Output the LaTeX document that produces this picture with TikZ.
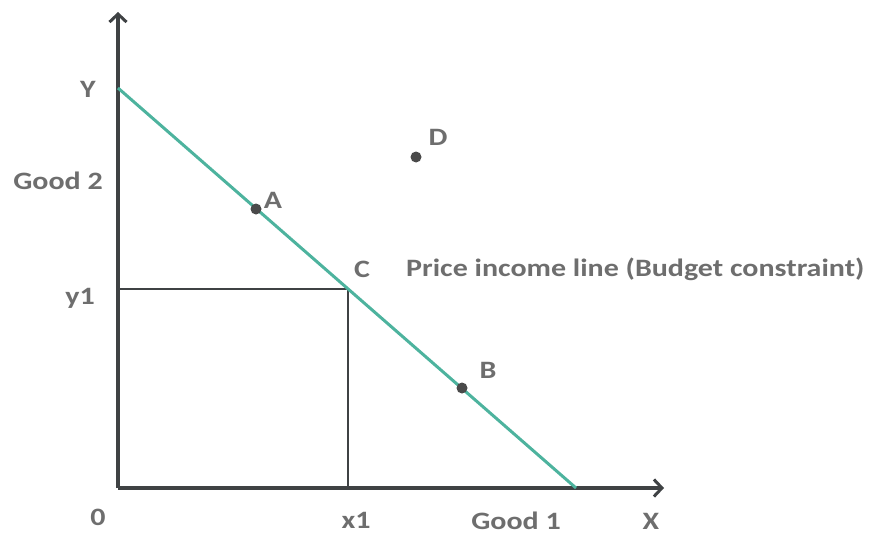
\documentclass[tikz,border=0pt]{standalone}
\usepackage{fontspec}
\setmainfont{Carlito}
\usetikzlibrary{arrows.meta}
\definecolor{axisgray}{HTML}{3F4244}
\definecolor{textgray}{HTML}{6E6E6E}
\definecolor{budget}{HTML}{4DB39E}
\definecolor{dotgray}{HTML}{4A4A4A}
\tikzset{
  axis/.style={draw=axisgray, line width=3.4pt, -{Straight Barb[length=8pt,width=17pt,line width=3pt]}},
  guide/.style={draw=axisgray, line width=2.8pt},
  budgetline/.style={draw=budget, line width=3pt},
  lbl/.style={text=textgray, font=\bfseries\fontsize{25}{28}\selectfont, inner sep=0pt, xscale=1.2},
  dot/.style={circle, fill=dotgray, minimum size=11pt, inner sep=0pt},
}
\begin{document}
\begin{tikzpicture}[x=1pt,y=1pt]
\useasboundingbox (0,0) rectangle (875,-535);
\coordinate (O) at (118,-488);
\coordinate (ytip) at (118,-12);
\coordinate (xtip) at (664,-488);
\coordinate (Yint) at (118,-88);
\coordinate (Xint) at (576,-488);
\coordinate (C) at (348,-289);
\coordinate (y1p) at (118,-289);
\coordinate (x1p) at (348,-488);
\draw[guide] (y1p) -- (C) -- (x1p);
\draw[axis] (O) -- (ytip);
\draw[axis] (O) -- (xtip);
\draw[budgetline] (Yint) -- (Xint);
\node[dot] (A) at (256,-209) {};
\node[dot] (B) at (462,-388) {};
\node[dot] (D) at (416,-157) {};
\node[lbl] (lY) at (88,-89) {Y};
\node[lbl] (lG2) at (58,-181) {Good 2};
\node[lbl] (ly1) at (80,-298) {y1};
\node[lbl] (l0) at (98,-517) {0};
\node[lbl] (lx1) at (356,-520) {x1};
\node[lbl] (lG1) at (516,-521) {Good 1};
\node[lbl] (lX) at (651,-521) {X};
\node[lbl] (lA) at (273,-200) {A};
\node[lbl] (lB) at (488,-370) {B};
\node[lbl] (lC) at (362,-269) {C};
\node[lbl] (lD) at (438,-137) {D};
\node[lbl, anchor=west] (lP) at (406,-269) {Price income line (Budget constraint)};
\end{tikzpicture}
\end{document}
